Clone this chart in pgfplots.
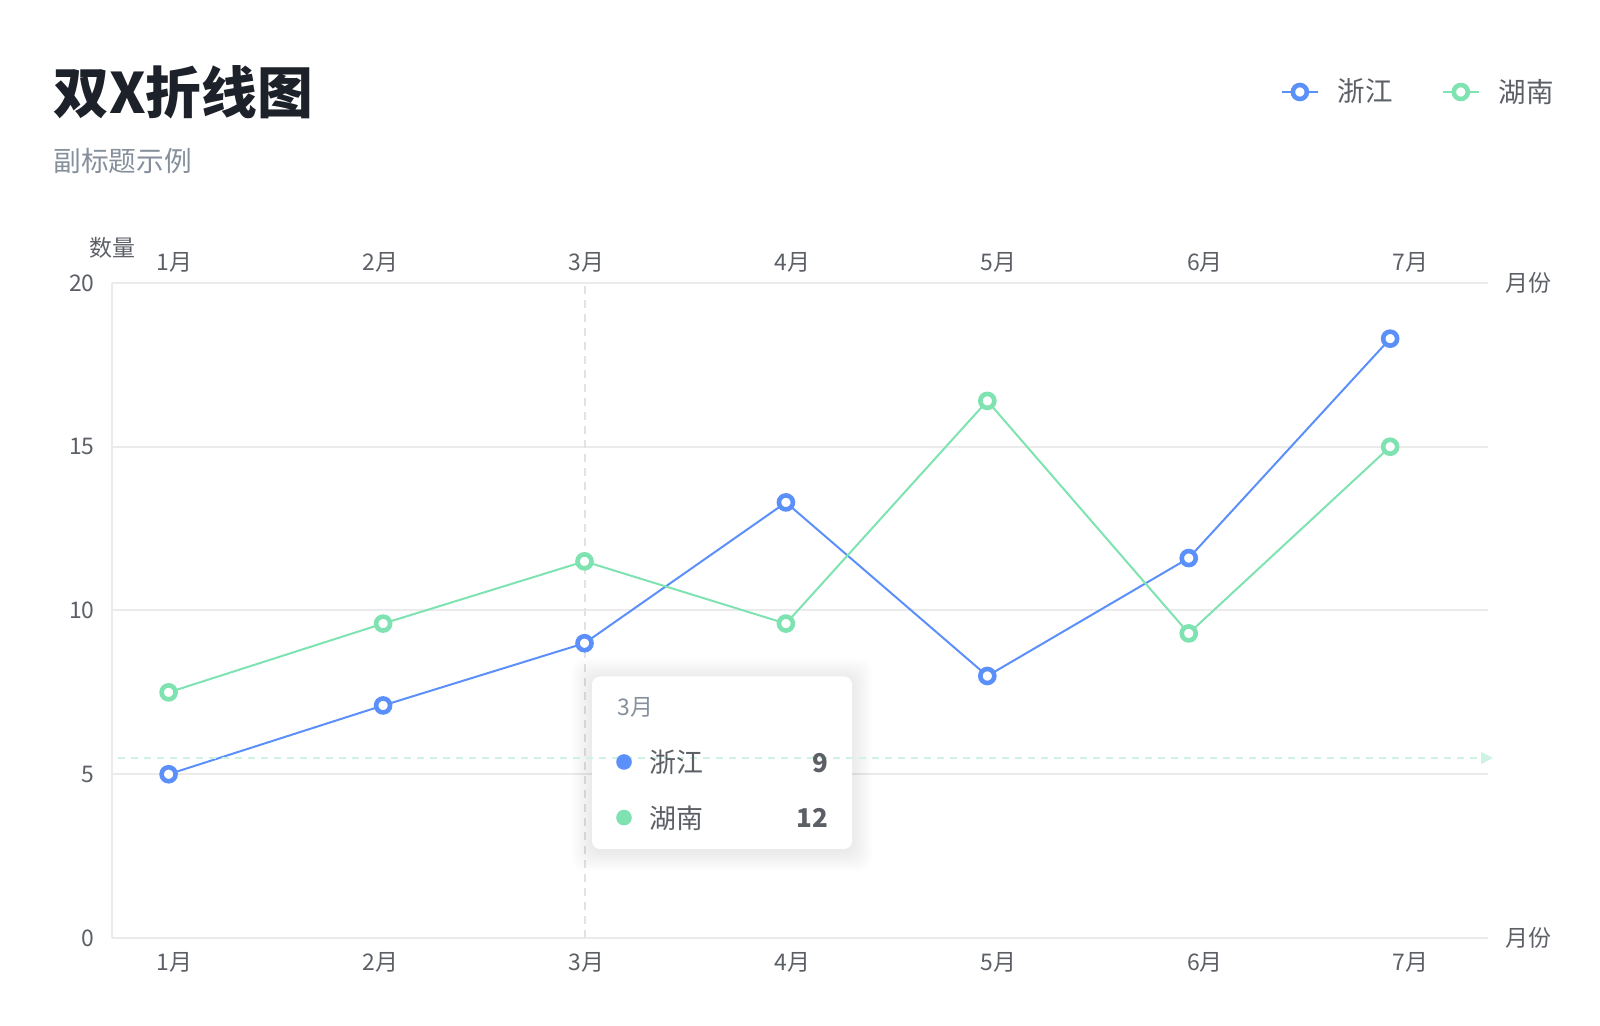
\documentclass[border=0pt]{standalone}
\usepackage{fontspec}
\setmainfont{Noto Sans CJK SC}
\usepackage{pgfplots}
\pgfplotsset{compat=1.18}
\usetikzlibrary{arrows.meta}
\definecolor{zjblue}{HTML}{5B8FF9}
\definecolor{hngreen}{HTML}{7EE2B1}
\definecolor{gridc}{HTML}{EBEBEB}
\definecolor{tickc}{HTML}{5C6066}
\definecolor{titlec}{HTML}{1D2129}
\definecolor{subc}{HTML}{86909C}
\definecolor{crossg}{HTML}{CFF3E2}
\definecolor{crossv}{HTML}{E3E3E3}
\newcommand{\tickfont}{\fontsize{11.5}{13}\selectfont}
\pgfplotsset{
  common/.style={
    at={(56bp,44bp)}, anchor=south west, scale only axis,
    width=688bp, height=327.5bp,
    xmin=-0.346, xmax=6.486, ymin=0, ymax=20,
    axis line style={draw=none},
    major tick length=0pt,
    xtick={-0.035,0.988,2.011,3.034,4.057,5.080,6.102},
    xticklabels={1月,2月,3月,4月,5月,6月,7月},
    tick label style={font=\tickfont, text=tickc, inner sep=0pt},
    /pgf/number format/assume math mode=true,
    clip=false,
  },
  zjstyle/.style={zjblue, line width=1bp, mark=*, mark size=3.5bp,
    mark options={fill=white, draw=zjblue, line width=2.3bp}},
  hnstyle/.style={hngreen, line width=1bp, mark=*, mark size=3.5bp,
    mark options={fill=white, draw=hngreen, line width=2.3bp}},
}
\begin{document}
\begin{tikzpicture}[x=1bp,y=1bp]
\path[use as bounding box] (0,0) rectangle (800,513);
\node[anchor=west, inner sep=0pt, font=\fontsize{28}{31}\selectfont\bfseries, text=titlec] at (26.5,467) {双X折线图};
\node[anchor=west, inner sep=0pt, font=\fontsize{13.9}{16}\selectfont, text=subc] at (26.5,432.5) {副标题示例};

\begin{axis}[common,
  ytick={0,5,10,15,20},
  ymajorgrids, grid style={gridc, line width=1bp},
  xticklabel style={anchor=center, yshift=-12bp},
  yticklabel style={anchor=east, xshift=-8.5bp},
]
\draw[gridc, line width=1bp] (axis cs:-0.346,0) -- (axis cs:-0.346,20);
\draw[crossv, line width=1bp, dash pattern=on 4bp off 3bp] (axis cs:2,0) -- (axis cs:2,20);
\addplot[zjstyle] coordinates {(-0.065,5) (1,7.1) (2,9) (3,13.3) (4,8) (5,11.6) (6,18.3)};
\end{axis}

\begin{axis}[common,
  axis x line*=top, axis y line*=left, ytick=\empty,
  xticklabel style={anchor=center, yshift=10.5bp},
  legend columns=2,
  legend image code/.code={\draw[mark repeat=2,mark phase=2,#1] plot coordinates {(0bp,0bp) (9bp,0bp) (18bp,0bp)};},
  legend style={at={(1.051,1.2916)}, anchor=east, draw=none, fill=none,
    font=\fontsize{13.8}{16}\selectfont, text=tickc, inner sep=0pt,
    /tikz/every odd column/.append style={column sep=7.5bp},
    /tikz/every even column/.append style={column sep=22.5bp}},
]
\addlegendimage{zjstyle}
\addlegendentry{浙江}
\addplot[hnstyle] coordinates {(-0.065,7.5) (1,9.6) (2,11.5) (3,9.6) (4,16.4) (5,9.3) (6,15)};
\addlegendentry{湖南}
\end{axis}

\node[font=\tickfont, text=tickc, inner sep=0pt] at (56,389) {数量};
\node[font=\tickfont, text=tickc, inner sep=0pt] at (764,371.5) {月份};
\node[font=\tickfont, text=tickc, inner sep=0pt] at (764,44) {月份};

% tooltip
\foreach \i in {1,...,10} {
  \fill[black, opacity=0.006, rounded corners=6bp] (296-\i,87.5-\i) rectangle (426+\i,173.75+\i);
}
\fill[white, rounded corners=4bp] (296,88.5) rectangle (426,174.75);
\draw[crossg, line width=1bp, dash pattern=on 3.5bp off 3bp, -{Triangle[length=6bp,width=6bp]}] (59,134) -- (746.5,134);
\node[anchor=west, inner sep=0pt, font=\fontsize{11.5}{13}\selectfont, text=subc] at (308.5,159.5) {3月};
\fill[zjblue] (312,132) circle (3.9bp);
\fill[hngreen] (312,104.2) circle (3.9bp);
\node[anchor=west, inner sep=0pt, font=\fontsize{13.5}{16}\selectfont, text=tickc] at (324.7,131.6) {浙江};
\node[anchor=west, inner sep=0pt, font=\fontsize{13.5}{16}\selectfont, text=tickc] at (324.7,103.8) {湖南};
\node[anchor=east, inner sep=0pt, font=\fontsize{13}{15}\selectfont\bfseries, text=tickc] at (414.3,131.6) {9};
\node[anchor=east, inner sep=0pt, font=\fontsize{13}{15}\selectfont\bfseries, text=tickc] at (414.3,103.8) {12};
\end{tikzpicture}
\end{document}
